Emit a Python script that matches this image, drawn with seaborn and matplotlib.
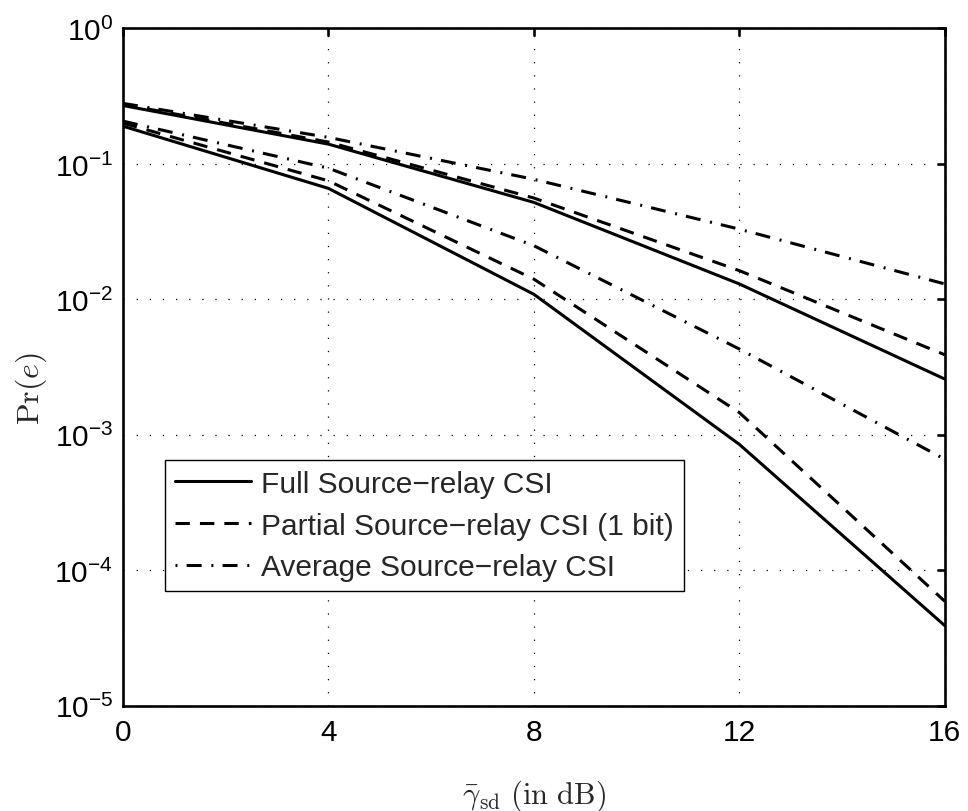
import numpy as np
import pandas as pd
import matplotlib
matplotlib.use("Agg")
import matplotlib.pyplot as plt
import seaborn as sns
from matplotlib.lines import Line2D

# ---- data ----
snr_db = [0, 4, 8, 12, 16]
full_upper = [0.270, 0.140, 0.052, 0.0130, 0.00258]
partial_upper = [0.275, 0.145, 0.056, 0.0163, 0.0039]
average_upper = [0.280, 0.157, 0.077, 0.0330, 0.0130]
full_lower = [0.190, 0.066, 0.0109, 0.00085, 0.000039]
partial_lower = [0.200, 0.075, 0.0141, 0.00146, 0.000059]
average_lower = [0.207, 0.093, 0.0249, 0.0043, 0.00066]

csi_labels = ["Full Source\u2212relay CSI",
              "Partial Source\u2212relay CSI (1 bit)",
              "Average Source\u2212relay CSI"]
x_ticks = [0, 4, 8, 12, 16]
y_ticks = [1e-5, 1e-4, 1e-3, 1e-2, 1e-1, 1e0]
y_ticklabels = [r"$\mathregular{10^{-5}}$", r"$\mathregular{10^{-4}}$",
                r"$\mathregular{10^{-3}}$", r"$\mathregular{10^{-2}}$",
                r"$\mathregular{10^{-1}}$", r"$\mathregular{10^{0}}$"]

series = {
    ("upper", csi_labels[0]): full_upper,
    ("upper", csi_labels[1]): partial_upper,
    ("upper", csi_labels[2]): average_upper,
    ("lower", csi_labels[0]): full_lower,
    ("lower", csi_labels[1]): partial_lower,
    ("lower", csi_labels[2]): average_lower,
}
rows = []
for (grp, csi), vals in series.items():
    for x, v in zip(snr_db, vals):
        rows.append({"snr": x, "pe": v, "csi": csi, "grp": grp})
df = pd.DataFrame(rows)

# ---- style ----
sns.set_theme(style="white")
plt.rcParams["font.family"] = ["Liberation Sans", "DejaVu Sans"]
plt.rcParams["axes.edgecolor"] = "black"
plt.rcParams["axes.linewidth"] = 1.9
plt.rcParams["xtick.color"] = "black"
plt.rcParams["ytick.color"] = "black"

LW = 2.2
DASH = (4.7, 3.3)
DASHDOT = (4.9, 3.2, 0.65, 3.0)
dash_map = {
    csi_labels[0]: "",
    csi_labels[1]: DASH,
    csi_labels[2]: DASHDOT,
}

fig = plt.figure(figsize=(9.68, 8.12), dpi=100)
ax = fig.add_axes([0.127, 0.1297, 0.849, 0.834])

sns.lineplot(data=df, x="snr", y="pe", style="csi", units="grp",
             estimator=None, color="black", dashes=dash_map,
             linewidth=LW, legend=False, ax=ax, sort=False)

ax.set_yscale("log")
ax.set_xlim(0, 16)
ax.set_ylim(1e-5, 1e0)
ax.set_xticks(x_ticks)
ax.set_xticklabels([str(t) for t in x_ticks])
ax.set_yticks(y_ticks)
ax.set_yticklabels(y_ticklabels)
ax.yaxis.set_minor_locator(matplotlib.ticker.NullLocator())

ax.tick_params(axis="both", which="major", direction="in", length=6,
               width=1.9, labelsize=21.5, top=True, right=True, color="black")
ax.tick_params(axis="x", pad=9)
ax.tick_params(axis="y", pad=7)

ax.grid(True, which="major", color="black", linestyle=(0, (1, 9.5)),
        linewidth=0.9)
for s in ax.spines.values():
    s.set_visible(True)
    s.set_color("black")
    s.set_linewidth(1.9)

ax.set_xlabel(r"$\bar{\gamma}_{\mathrm{sd}}\ (\mathrm{in\ dB})$",
              fontsize=22, math_fontfamily="cm")
ax.set_ylabel(r"$\mathrm{Pr}(e)$", fontsize=23, math_fontfamily="cm")
ax.xaxis.set_label_coords(0.5, -0.106)
ax.yaxis.set_label_coords(-0.090, 0.47)

handles = [Line2D([], [], color="black", lw=LW, linestyle="-"),
           Line2D([], [], color="black", lw=LW, linestyle=(0, DASH)),
           Line2D([], [], color="black", lw=LW,
                  linestyle=(0, (0.65, 3.0, 4.9, 3.2)))]
leg = ax.legend(handles, csi_labels, loc="lower left",
                bbox_to_anchor=(0.051, 0.169), fontsize=21.5,
                handlelength=2.55, handletextpad=0.35, labelspacing=0.46,
                borderpad=0.33, borderaxespad=0, fancybox=False,
                framealpha=1, edgecolor="black")
leg.get_frame().set_linewidth(1.0)

fig.savefig("out.png", dpi=100, facecolor="white")
